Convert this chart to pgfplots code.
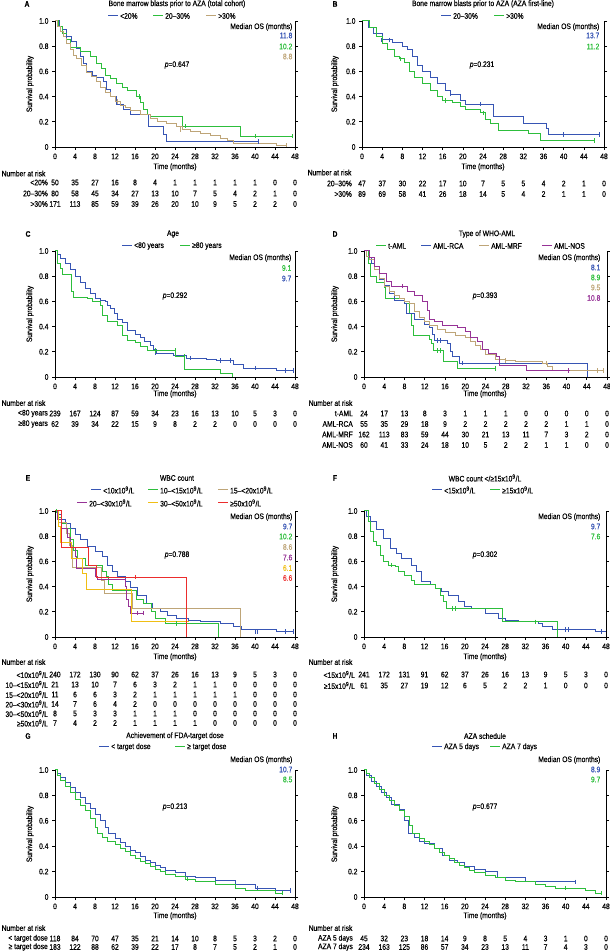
\documentclass[border=0pt]{standalone}
\usepackage{fontspec}
\setmainfont{Liberation Sans}[FakeStretch=0.84,FakeBold=0.35]
\usepackage{pgfplots}
\pgfplotsset{compat=1.18}
\definecolor{kmblue}{RGB}{55,85,180}
\definecolor{kmgreen}{RGB}{45,190,60}
\definecolor{kmtan}{RGB}{190,165,120}
\definecolor{kmpurple}{RGB}{150,50,150}
\definecolor{kmyellow}{RGB}{240,190,20}
\definecolor{kmred}{RGB}{235,45,45}
\newcommand{\fs}{\fontsize{8}{9}\selectfont}
\newcommand{\tn}{x10\textsuperscript{9}/L}
\pgfplotsset{
  km/.style={scale only axis, width=240pt, height=126pt, xmin=0, xmax=48, ymin=0, ymax=1,
    axis x line*=bottom, axis y line*=box, clip=false,
    xtick={0,4,...,48}, xticklabels={0,4,8,12,16,20,24,28,32,36,40,44,48},
    ytick={0,0.2,0.4,0.6,0.8,1}, yticklabels={0,0.2,0.4,0.6,0.8,1.0},
    yticklabel pos=left, tick align=outside, major tick length=3pt,
    tick style={black,line width=0.6pt}, axis line style={black,line width=0.8pt},
    tick label style={font=\fs}, /pgf/number format/assume math mode=true},
  kml/.style={const plot, line width=1pt, mark=none},
  cens/.style={only marks, mark=|, mark size=2.2pt, mark options={line width=0.6pt}}
}
\newcommand{\riskrow}[6]{\node[anchor=east,font=\fs,inner sep=0pt] at (#4,#3) {#5};
  \foreach \v [count=\i from 0] in {#6} {\node[font=\fs,inner sep=0pt] at ({#1+#2*\i},#3) {\v};}}
\newcommand{\legitem}[4]{\draw[#1,line width=1pt] (#2,#3)--({#2+10},#3);
  \node[anchor=west,font=\fs,inner sep=1pt] at ({#2+11},#3) {#4};}
\begin{document}
\begin{tikzpicture}
\useasboundingbox (0,0) rectangle (610pt,951pt);
% ---------- A ----------
\begin{axis}[km, at={(55pt,804pt)}, anchor=south west]
\addplot[kml,kmblue] coordinates {(0,1)(0.8,0.96)(1.5,0.93)(2.3,0.88)(3.2,0.84)(4.3,0.78)(5,0.72)(5.7,0.66)(6.3,0.6)(7.5,0.57)(8.3,0.55)(9.7,0.52)(10.3,0.46)(11,0.4)(12.3,0.34)(13.7,0.3)(15,0.26)(18.7,0.16)(21.7,0.1)(22.3,0.045)(40.7,0.045)};
\addplot[kml,kmgreen] coordinates {(0,1)(0.7,0.96)(1.5,0.9)(2.3,0.85)(3,0.79)(5,0.76)(7,0.72)(8.3,0.66)(9.3,0.62)(10,0.57)(11,0.54)(12.3,0.5)(13.5,0.47)(14.5,0.45)(16.3,0.4)(17,0.35)(17.7,0.3)(18.5,0.26)(19,0.24)(25.5,0.165)(37,0.085)(47.5,0.085)};
\addplot[kml,kmtan] coordinates {(0,1)(0.5,0.96)(1,0.92)(1.6,0.88)(2.3,0.82)(3,0.77)(3.7,0.73)(4.3,0.7)(5.3,0.65)(6.3,0.59)(7.3,0.56)(8.3,0.52)(9,0.47)(10,0.43)(11,0.4)(12,0.36)(13,0.33)(14,0.31)(15,0.29)(17,0.26)(19,0.225)(20.5,0.2)(22.3,0.185)(24.3,0.16)(25.5,0.14)(27,0.12)(29,0.11)(31,0.09)(33,0.07)(34.5,0.05)(35.7,0.03)(44.3,0.015)(46.3,0.015)};
\addplot[cens,kmblue] coordinates {(2.3,0.88)(40.7,0.045)};
\addplot[cens,kmgreen] coordinates {(16.8,0.4)(26,0.165)(40,0.085)(47.5,0.085)};
\addplot[cens,kmtan] coordinates {(12.5,0.36)(25,0.14)(46.3,0.015)};
\end{axis}
% ---------- B ----------
\begin{axis}[km, width=242pt, at={(362pt,804pt)}, anchor=south west]
\addplot[kml,kmblue] coordinates {(0,1)(1.3,0.95)(2.3,0.9)(4,0.85)(6,0.83)(8,0.8)(9,0.77)(10,0.72)(11,0.65)(12,0.6)(13.5,0.55)(15,0.5)(16.5,0.45)(17.5,0.42)(19.5,0.37)(20.5,0.34)(26,0.24)(32,0.19)(36.5,0.145)(37,0.098)(47,0.098)};
\addplot[kml,kmgreen] coordinates {(0,1)(1.5,0.95)(2.8,0.88)(4,0.82)(5,0.77)(6.5,0.72)(7.5,0.7)(8.5,0.67)(9.5,0.6)(10.5,0.55)(12,0.5)(13.5,0.45)(15,0.4)(16,0.37)(18,0.35)(19.5,0.32)(20.5,0.3)(23.5,0.27)(24.5,0.22)(25.5,0.185)(27,0.13)(33,0.105)(35.5,0.05)(46,0.05)};
\addplot[cens,kmblue] coordinates {(3.8,0.85)(5.5,0.85)(17.5,0.42)(23.5,0.34)(40,0.098)(47,0.098)};
\addplot[cens,kmgreen] coordinates {(7.5,0.7)(16.5,0.37)(24,0.27)(46,0.05)};
\end{axis}
% ---------- C ----------
\begin{axis}[km, at={(55pt,574pt)}, anchor=south west]
\addplot[kml,kmblue] coordinates {(0,1)(0.5,0.97)(1,0.94)(2,0.9)(3,0.85)(4,0.8)(5,0.75)(6,0.7)(7,0.66)(8,0.62)(9,0.61)(10,0.6)(10.5,0.57)(11,0.545)(11.8,0.5)(12.5,0.46)(13.5,0.43)(14.5,0.37)(16,0.34)(17,0.31)(17.8,0.28)(19,0.25)(19.7,0.22)(20.3,0.19)(23.7,0.17)(26.3,0.15)(30.3,0.14)(32.3,0.13)(35.7,0.1)(37.7,0.07)(44.3,0.05)(47.7,0.05)};
\addplot[kml,kmgreen] coordinates {(0,1)(0.5,0.9)(1,0.86)(1.5,0.81)(3.3,0.68)(3.7,0.63)(6.5,0.62)(7.5,0.6)(9,0.57)(9.5,0.49)(10.5,0.44)(12.5,0.41)(13.5,0.33)(14.5,0.29)(16,0.27)(17,0.24)(18.5,0.21)(24,0.165)(25.8,0.06)(33,0.03)(35.5,0)};
\addplot[cens,kmblue] coordinates {(20,0.19)(27,0.15)(33,0.13)(35,0.13)(40,0.07)(46,0.05)(47.7,0.05)};
\addplot[cens,kmgreen] coordinates {(20,0.21)(24,0.21)(25.8,0.165)};
\end{axis}
% ---------- D ----------
\begin{axis}[km, width=243pt, at={(364pt,574pt)}, anchor=south west]
\addplot[kml,kmgreen] coordinates {(0,1)(0.8,0.9)(1.2,0.8)(2.5,0.75)(4,0.71)(4.3,0.62)(8,0.58)(9,0.5)(9.4,0.41)(9.8,0.33)(13,0.3)(13.3,0.265)(13.8,0.21)(15.8,0.12)(18.4,0.066)(26,0.066)};
\addplot[kml,kmblue] coordinates {(0,1)(1,0.95)(1.5,0.9)(2,0.85)(3,0.77)(4,0.73)(5,0.66)(6,0.61)(8,0.58)(8.3,0.5)(10,0.46)(12,0.42)(13,0.39)(13.5,0.34)(14,0.29)(16.5,0.265)(17,0.2)(17.4,0.16)(18.9,0.11)(44.1,0)};
\addplot[kml,kmtan] coordinates {(0,1)(0.5,0.96)(1,0.93)(2,0.85)(3,0.78)(4,0.72)(5,0.68)(6,0.65)(7,0.62)(8,0.6)(9,0.58)(10,0.52)(11,0.47)(12,0.44)(13,0.41)(14.5,0.38)(16,0.35)(18,0.33)(20,0.31)(21,0.28)(22,0.25)(23,0.22)(24,0.18)(26,0.14)(28,0.13)(30,0.12)(35.3,0.11)(36.3,0.08)(37.3,0.05)(47.2,0.05)};
\addplot[kml,kmpurple] coordinates {(0,1)(1,0.95)(2,0.88)(3,0.82)(4.5,0.76)(5.5,0.72)(8.5,0.68)(10,0.65)(11.5,0.6)(12.5,0.53)(13,0.46)(14,0.44)(15.5,0.41)(18.5,0.39)(20,0.36)(21,0.31)(22.5,0.28)(23.5,0.22)(24.5,0.19)(26.2,0.16)(26.7,0.09)(32,0.05)(40.6,0.05)};
\addplot[cens,kmgreen] coordinates {(14.5,0.21)(15,0.21)(26,0.066)};
\addplot[cens,kmblue] coordinates {(14.5,0.29)(15,0.29)(19.5,0.11)};
\addplot[cens,kmtan] coordinates {(28,0.13)(36,0.11)(46,0.05)(47.2,0.05)};
\addplot[cens,kmpurple] coordinates {(7.5,0.72)(40.3,0.05)};
\end{axis}
% ---------- E ----------
\begin{axis}[km, at={(55pt,314pt)}, anchor=south west]
\addplot[kml,kmblue] coordinates {(0,1)(0.5,0.97)(1.3,0.93)(2,0.9)(3,0.86)(4,0.81)(5,0.77)(6.5,0.72)(8,0.68)(9.5,0.64)(10.5,0.57)(11.5,0.52)(12.5,0.48)(14,0.44)(15,0.39)(16.5,0.33)(18.3,0.265)(19.5,0.23)(21,0.2)(22.5,0.17)(24.3,0.146)(26.7,0.13)(29,0.12)(33,0.106)(35.7,0.08)(37.3,0.06)(44.3,0.045)(47.7,0.045)};
\addplot[kml,kmgreen] coordinates {(0,1)(0.5,0.95)(1.3,0.9)(2.3,0.86)(3,0.77)(3.7,0.69)(4.5,0.62)(6,0.57)(9.5,0.52)(10.3,0.48)(10.7,0.42)(11.5,0.37)(16.3,0.3)(17.7,0.265)(19.3,0.2)(20,0.15)(22,0.106)(32.7,0)};
\addplot[kml,kmtan] coordinates {(0,1)(0.6,0.91)(2.2,0.82)(2.8,0.73)(3.5,0.55)(9.3,0.45)(9.8,0.345)(15.5,0.23)(37,0)};
\addplot[kml,kmpurple] coordinates {(0,1)(0.5,0.93)(1.2,0.86)(2.5,0.79)(3,0.71)(4,0.64)(4.3,0.54)(8,0.48)(8.5,0.46)(14,0.4)(14.3,0.3)(14.7,0.24)(15,0.19)(17.7,0.19)};
\addplot[kml,kmyellow] coordinates {(0,1)(0.7,0.875)(1,0.75)(3.3,0.625)(5.5,0.5)(6.3,0.375)(15.3,0.125)(26.7,0.125)};
\addplot[kml,kmred] coordinates {(0,1)(1.3,0.714)(6.7,0.571)(8.3,0.476)(26.3,0)};
\addplot[cens,kmblue] coordinates {(40,0.045)(40.5,0.045)(46,0.045)(47.7,0.045)};
\addplot[cens,kmgreen] coordinates {(0.3,1)(24.3,0.106)};
\addplot[cens,kmpurple] coordinates {(16.5,0.19)(17.7,0.19)};
\addplot[cens,kmred] coordinates {(16,0.476)};
\end{axis}
% ---------- F ----------
\begin{axis}[km, width=242pt, at={(364pt,314pt)}, anchor=south west]
\addplot[kml,kmblue] coordinates {(0,1)(0.5,0.96)(1.2,0.92)(2.5,0.85)(3.8,0.78)(5.2,0.7)(6.5,0.66)(7.5,0.62)(9.5,0.57)(10.5,0.52)(11.5,0.44)(13.1,0.42)(14.1,0.385)(15.4,0.36)(16.8,0.33)(18.7,0.28)(20,0.24)(21.4,0.225)(24,0.185)(26.7,0.146)(28,0.13)(30.7,0.12)(34.6,0.106)(35.5,0.08)(37.3,0.06)(45.9,0.045)(48,0.045)};
\addplot[kml,kmgreen] coordinates {(0,1)(0.9,0.92)(1.2,0.835)(1.9,0.76)(2.5,0.73)(3.2,0.65)(3.8,0.6)(4.8,0.57)(6.2,0.56)(6.8,0.52)(8.1,0.49)(9.5,0.45)(10.1,0.42)(14.1,0.385)(15.1,0.33)(15.8,0.28)(16.4,0.225)(27.4,0.12)(38.3,0)};
\addplot[cens,kmblue] coordinates {(40,0.06)(40.6,0.06)(47,0.045)};
\addplot[cens,kmgreen] coordinates {(5.5,0.57)(17.5,0.225)(18.2,0.225)(34,0.12)};
\end{axis}
% ---------- G ----------
\begin{axis}[km, height=127pt, at={(55pt,54pt)}, anchor=south west]
\addplot[kml,kmblue] coordinates {(0,1)(0.5,0.97)(1,0.94)(2,0.9)(3,0.86)(4,0.82)(5,0.78)(6,0.74)(7,0.7)(8,0.65)(9,0.6)(10,0.55)(10.7,0.5)(12,0.46)(13,0.43)(14,0.4)(15,0.37)(16,0.35)(17,0.32)(18,0.29)(19,0.27)(20,0.25)(21,0.23)(22,0.21)(24,0.19)(26,0.16)(28,0.15)(32,0.13)(36,0.1)(40,0.07)(44,0.05)(47,0.05)};
\addplot[kml,kmgreen] coordinates {(0,1)(0.5,0.96)(1,0.92)(2,0.87)(3,0.82)(4,0.77)(5,0.72)(6,0.68)(7,0.62)(8,0.55)(8.5,0.5)(9.5,0.47)(10.5,0.44)(12,0.41)(13,0.38)(14,0.36)(15,0.33)(16,0.3)(17,0.28)(18,0.26)(19,0.24)(20,0.22)(21,0.2)(22,0.18)(24,0.16)(26,0.14)(28,0.12)(32,0.1)(36,0.07)(38,0.05)(44,0.03)(45.5,0.03)};
\addplot[cens,kmblue] coordinates {(40.5,0.07)(47,0.05)};
\addplot[cens,kmgreen] coordinates {(26.5,0.14)(45.5,0.03)};
\end{axis}
% ---------- H ----------
\begin{axis}[km, width=242pt, height=127pt, at={(364pt,54pt)}, anchor=south west]
\addplot[kml,kmblue] coordinates {(0,1)(0.5,0.96)(1.5,0.91)(2.5,0.87)(3.5,0.82)(4.5,0.78)(5.5,0.73)(7,0.69)(8,0.6)(8.9,0.5)(10,0.47)(11,0.44)(12,0.42)(14,0.38)(15.5,0.33)(17,0.29)(18.5,0.27)(20,0.24)(22,0.22)(24,0.2)(26.5,0.15)(32,0.12)(42,0.12)};
\addplot[kml,kmgreen] coordinates {(0,1)(0.5,0.97)(1,0.94)(2,0.89)(3,0.85)(4,0.8)(5,0.76)(6,0.72)(7,0.68)(8,0.63)(9,0.56)(9.7,0.5)(11,0.46)(12,0.44)(13,0.41)(14,0.38)(15,0.35)(16,0.33)(17,0.3)(18,0.27)(19,0.25)(20,0.23)(21,0.21)(22,0.19)(24,0.17)(26,0.15)(28,0.13)(30,0.12)(34,0.1)(36,0.08)(38,0.07)(44,0.05)(46,0.03)(47,0.03)};
\addplot[cens,kmblue] coordinates {(42,0.12)};
\addplot[cens,kmgreen] coordinates {(40,0.07)(47,0.03)};
\end{axis}
% ---------- Texts ----------
\begin{scope}[x=1pt,y=-1pt,yshift=951pt,every node/.style={font=\fs,inner sep=0.5pt}]
% A
\node[font=\fs\bfseries] at (27,4) {A};
\node at (177,4) {Bone marrow blasts prior to AZA (total cohort)};
\legitem{kmblue}{108}{16}{<20\%}
\legitem{kmgreen}{153}{16}{20–30\%}
\legitem{kmtan}{206}{16}{>30\%}
\node[anchor=east] at (293,27) {Median OS (months)};
\node[anchor=east,text=kmblue] at (293,35.5) {11.8};
\node[anchor=east,text=kmgreen] at (293,46.5) {10.2};
\node[anchor=east,text=kmtan] at (293,56.5) {8.8};
\node at (177,65) {\textit{p}=0.647};
\node[rotate=90] at (30,84) {Survival probability};
\node at (175,167) {Time (months)};
\node[anchor=west] at (1,173.5) {Number at risk};
\riskrow{55}{20}{182.5}{48}{<20\%}{50,35,27,16,8,4,1,1,1,1,1,0,0}
\riskrow{55}{20}{193.5}{48}{20–30\%}{80,58,45,34,27,13,10,7,5,4,2,1,0}
\riskrow{55}{20}{204}{48}{>30\%}{171,113,85,59,39,26,20,10,9,5,2,2,0}
% B
\node[font=\fs\bfseries] at (335,4) {B};
\node at (483,4) {Bone marrow blasts prior to AZA (AZA first-line)};
\legitem{kmblue}{441}{16}{20–30\%}
\legitem{kmgreen}{494}{16}{>30\%}
\node[anchor=east] at (600,27) {Median OS (months)};
\node[anchor=east,text=kmblue] at (600,35.5) {13.7};
\node[anchor=east,text=kmgreen] at (600,46.5) {11.2};
\node at (482,65) {\textit{p}=0.231};
\node[rotate=90] at (335,84) {Survival probability};
\node at (483,167) {Time (months)};
\node[anchor=west] at (307,172.5) {Number at risk};
\riskrow{362}{20.17}{183.5}{352}{20–30\%}{47,37,30,22,17,10,7,5,5,4,2,1,0}
\riskrow{362}{20.17}{194}{352}{>30\%}{89,69,58,41,26,18,14,5,4,2,1,1,0}
% C
\node[font=\fs\bfseries] at (28,234) {C};
\node at (173,234) {Age};
\legitem{kmblue}{122}{246}{<80 years}
\legitem{kmgreen}{180}{246}{≥80 years}
\node[anchor=east] at (292,258) {Median OS (months)};
\node[anchor=east,text=kmgreen] at (292,268) {9.1};
\node[anchor=east,text=kmblue] at (292,278.5) {9.7};
\node at (175,296) {\textit{p}=0.292};
\node[rotate=90] at (30,314) {Survival probability};
\node at (175,394) {Time (months)};
\node[anchor=west] at (1,403) {Number at risk};
\riskrow{55}{20}{413.5}{48}{<80 years}{239,167,124,87,59,34,23,16,13,10,5,3,0}
\riskrow{55}{20}{424}{48}{≥80 years}{62,39,34,22,15,9,8,2,2,0,0,0,0}
% D
\node[font=\fs\bfseries] at (335,234) {D};
\node at (487,234) {Type of WHO-AML};
\legitem{kmgreen}{376}{246}{t-AML}
\legitem{kmblue}{421}{246}{AML-RCA}
\legitem{kmtan}{479}{246}{AML-MRF}
\legitem{kmpurple}{542}{246}{AML-NOS}
\node[anchor=east] at (601,258) {Median OS (months)};
\node[anchor=east,text=kmblue] at (601,267.5) {8.1};
\node[anchor=east,text=kmgreen] at (601,277.5) {8.9};
\node[anchor=east,text=kmtan] at (601,287.5) {9.5};
\node[anchor=east,text=kmpurple] at (601,298) {10.8};
\node at (485,296) {\textit{p}=0.393};
\node[rotate=90] at (335,314) {Survival probability};
\node at (485,394) {Time (months)};
\node[anchor=west] at (308,403) {Number at risk};
\riskrow{364}{20.25}{413.5}{353}{t-AML}{24,17,13,8,3,1,1,1,0,0,0,0,0}
\riskrow{364}{20.25}{424}{353}{AML-RCA}{55,35,29,18,9,2,2,2,2,2,1,1,0}
\riskrow{364}{20.25}{434.5}{353}{AML-MRF}{162,113,83,59,44,30,21,13,11,7,3,2,0}
\riskrow{364}{20.25}{445}{353}{AML-NOS}{60,41,33,24,18,10,5,2,2,1,1,0,0}
% E
\node[font=\fs\bfseries] at (28,478) {E};
\node at (177,478) {WBC count};
\legitem{kmblue}{91}{490}{<10\tn}
\legitem{kmgreen}{148}{490}{10–<15\tn}
\legitem{kmtan}{218}{490}{15–<20\tn}
\legitem{kmpurple}{77}{503}{20–<30\tn}
\legitem{kmyellow}{148}{503}{30–<50\tn}
\legitem{kmred}{218}{503}{≥50\tn}
\node[anchor=east] at (293,517) {Median OS (months)};
\node[anchor=east,text=kmblue] at (293,526.5) {9.7};
\node[anchor=east,text=kmgreen] at (293,536.5) {10.2};
\node[anchor=east,text=kmtan] at (293,547) {8.6};
\node[anchor=east,text=kmpurple] at (293,557.5) {7.6};
\node[anchor=east,text=kmyellow] at (293,568) {6.1};
\node[anchor=east,text=kmred] at (293,578) {6.6};
\node at (177,555) {\textit{p}=0.788};
\node[rotate=90] at (30,574) {Survival probability};
\node at (175,657) {Time (months)};
\node[anchor=west] at (1,662) {Number at risk};
\riskrow{55}{20}{674.5}{48}{<10\tn}{240,172,130,90,62,37,26,16,13,9,5,3,0}
\riskrow{55}{20}{684.5}{48}{10–<15\tn}{21,13,10,7,6,3,2,1,1,0,0,0,0}
\riskrow{55}{20}{694.5}{48}{15–<20\tn}{11,6,6,3,2,1,1,1,1,1,0,0,0}
\riskrow{55}{20}{704}{48}{20–<30\tn}{14,7,6,4,2,0,0,0,0,0,0,0,0}
\riskrow{55}{20}{713.5}{48}{30–<50\tn}{8,5,3,3,1,1,1,0,0,0,0,0,0}
\riskrow{55}{20}{723}{48}{≥50\tn}{7,4,2,2,1,1,1,1,0,0,0,0,0}
% F
\node[font=\fs\bfseries] at (335,478) {F};
\node at (485,478) {WBC count </≥15\tn};
\legitem{kmblue}{432}{490}{<15\tn}
\legitem{kmgreen}{490}{490}{≥15\tn}
\node[anchor=east] at (601,517) {Median OS (months)};
\node[anchor=east,text=kmblue] at (601,526.5) {9.7};
\node[anchor=east,text=kmgreen] at (601,536.5) {7.6};
\node at (485,555) {\textit{p}=0.302};
\node[rotate=90] at (335,574) {Survival probability};
\node at (485,657) {Time (months)};
\node[anchor=west] at (308,662) {Number at risk};
\riskrow{364}{20.17}{674.5}{355}{<15\tn}{241,172,131,91,62,37,26,16,13,9,5,3,0}
\riskrow{364}{20.17}{685.5}{355}{≥15\tn}{61,35,27,19,12,6,5,2,2,1,0,0,0}
% G
\node[font=\fs\bfseries] at (28,736) {G};
\node at (175,736) {Achievement of FDA-target dose};
\legitem{kmblue}{99}{747}{< target dose}
\legitem{kmgreen}{175}{747}{≥ target dose}
\node[anchor=east] at (293,760) {Median OS (months)};
\node[anchor=east,text=kmblue] at (293,769.5) {10.7};
\node[anchor=east,text=kmgreen] at (293,779.5) {8.5};
\node at (175,807) {\textit{p}=0.213};
\node[rotate=90] at (30,834) {Survival probability};
\node at (175,916) {Time (months)};
\node[anchor=west] at (1,928) {Number at risk};
\riskrow{55}{20}{938.5}{48}{< target dose}{118,84,70,47,35,21,14,10,8,5,3,2,0}
\riskrow{55}{20}{947}{48}{≥ target dose}{183,122,88,62,39,22,17,8,7,5,2,1,0}
% H
\node[font=\fs\bfseries] at (335,736) {H};
\node at (485,736) {AZA schedule};
\legitem{kmblue}{432}{747}{AZA 5 days}
\legitem{kmgreen}{490}{747}{AZA 7 days}
\node[anchor=east] at (601,760) {Median OS (months)};
\node[anchor=east,text=kmblue] at (601,769.5) {8.9};
\node[anchor=east,text=kmgreen] at (601,779.5) {9.7};
\node at (485,807) {\textit{p}=0.677};
\node[rotate=90] at (335,834) {Survival probability};
\node at (485,916) {Time (months)};
\node[anchor=west] at (308,928) {Number at risk};
\riskrow{364}{20.17}{938.5}{353}{AZA 5 days}{45,32,23,18,14,9,8,5,4,3,1,0,0}
\riskrow{364}{20.17}{947}{353}{AZA 7 days}{234,163,125,86,57,34,23,13,11,7,4,3,0}
\end{scope}
\end{tikzpicture}
\end{document}
